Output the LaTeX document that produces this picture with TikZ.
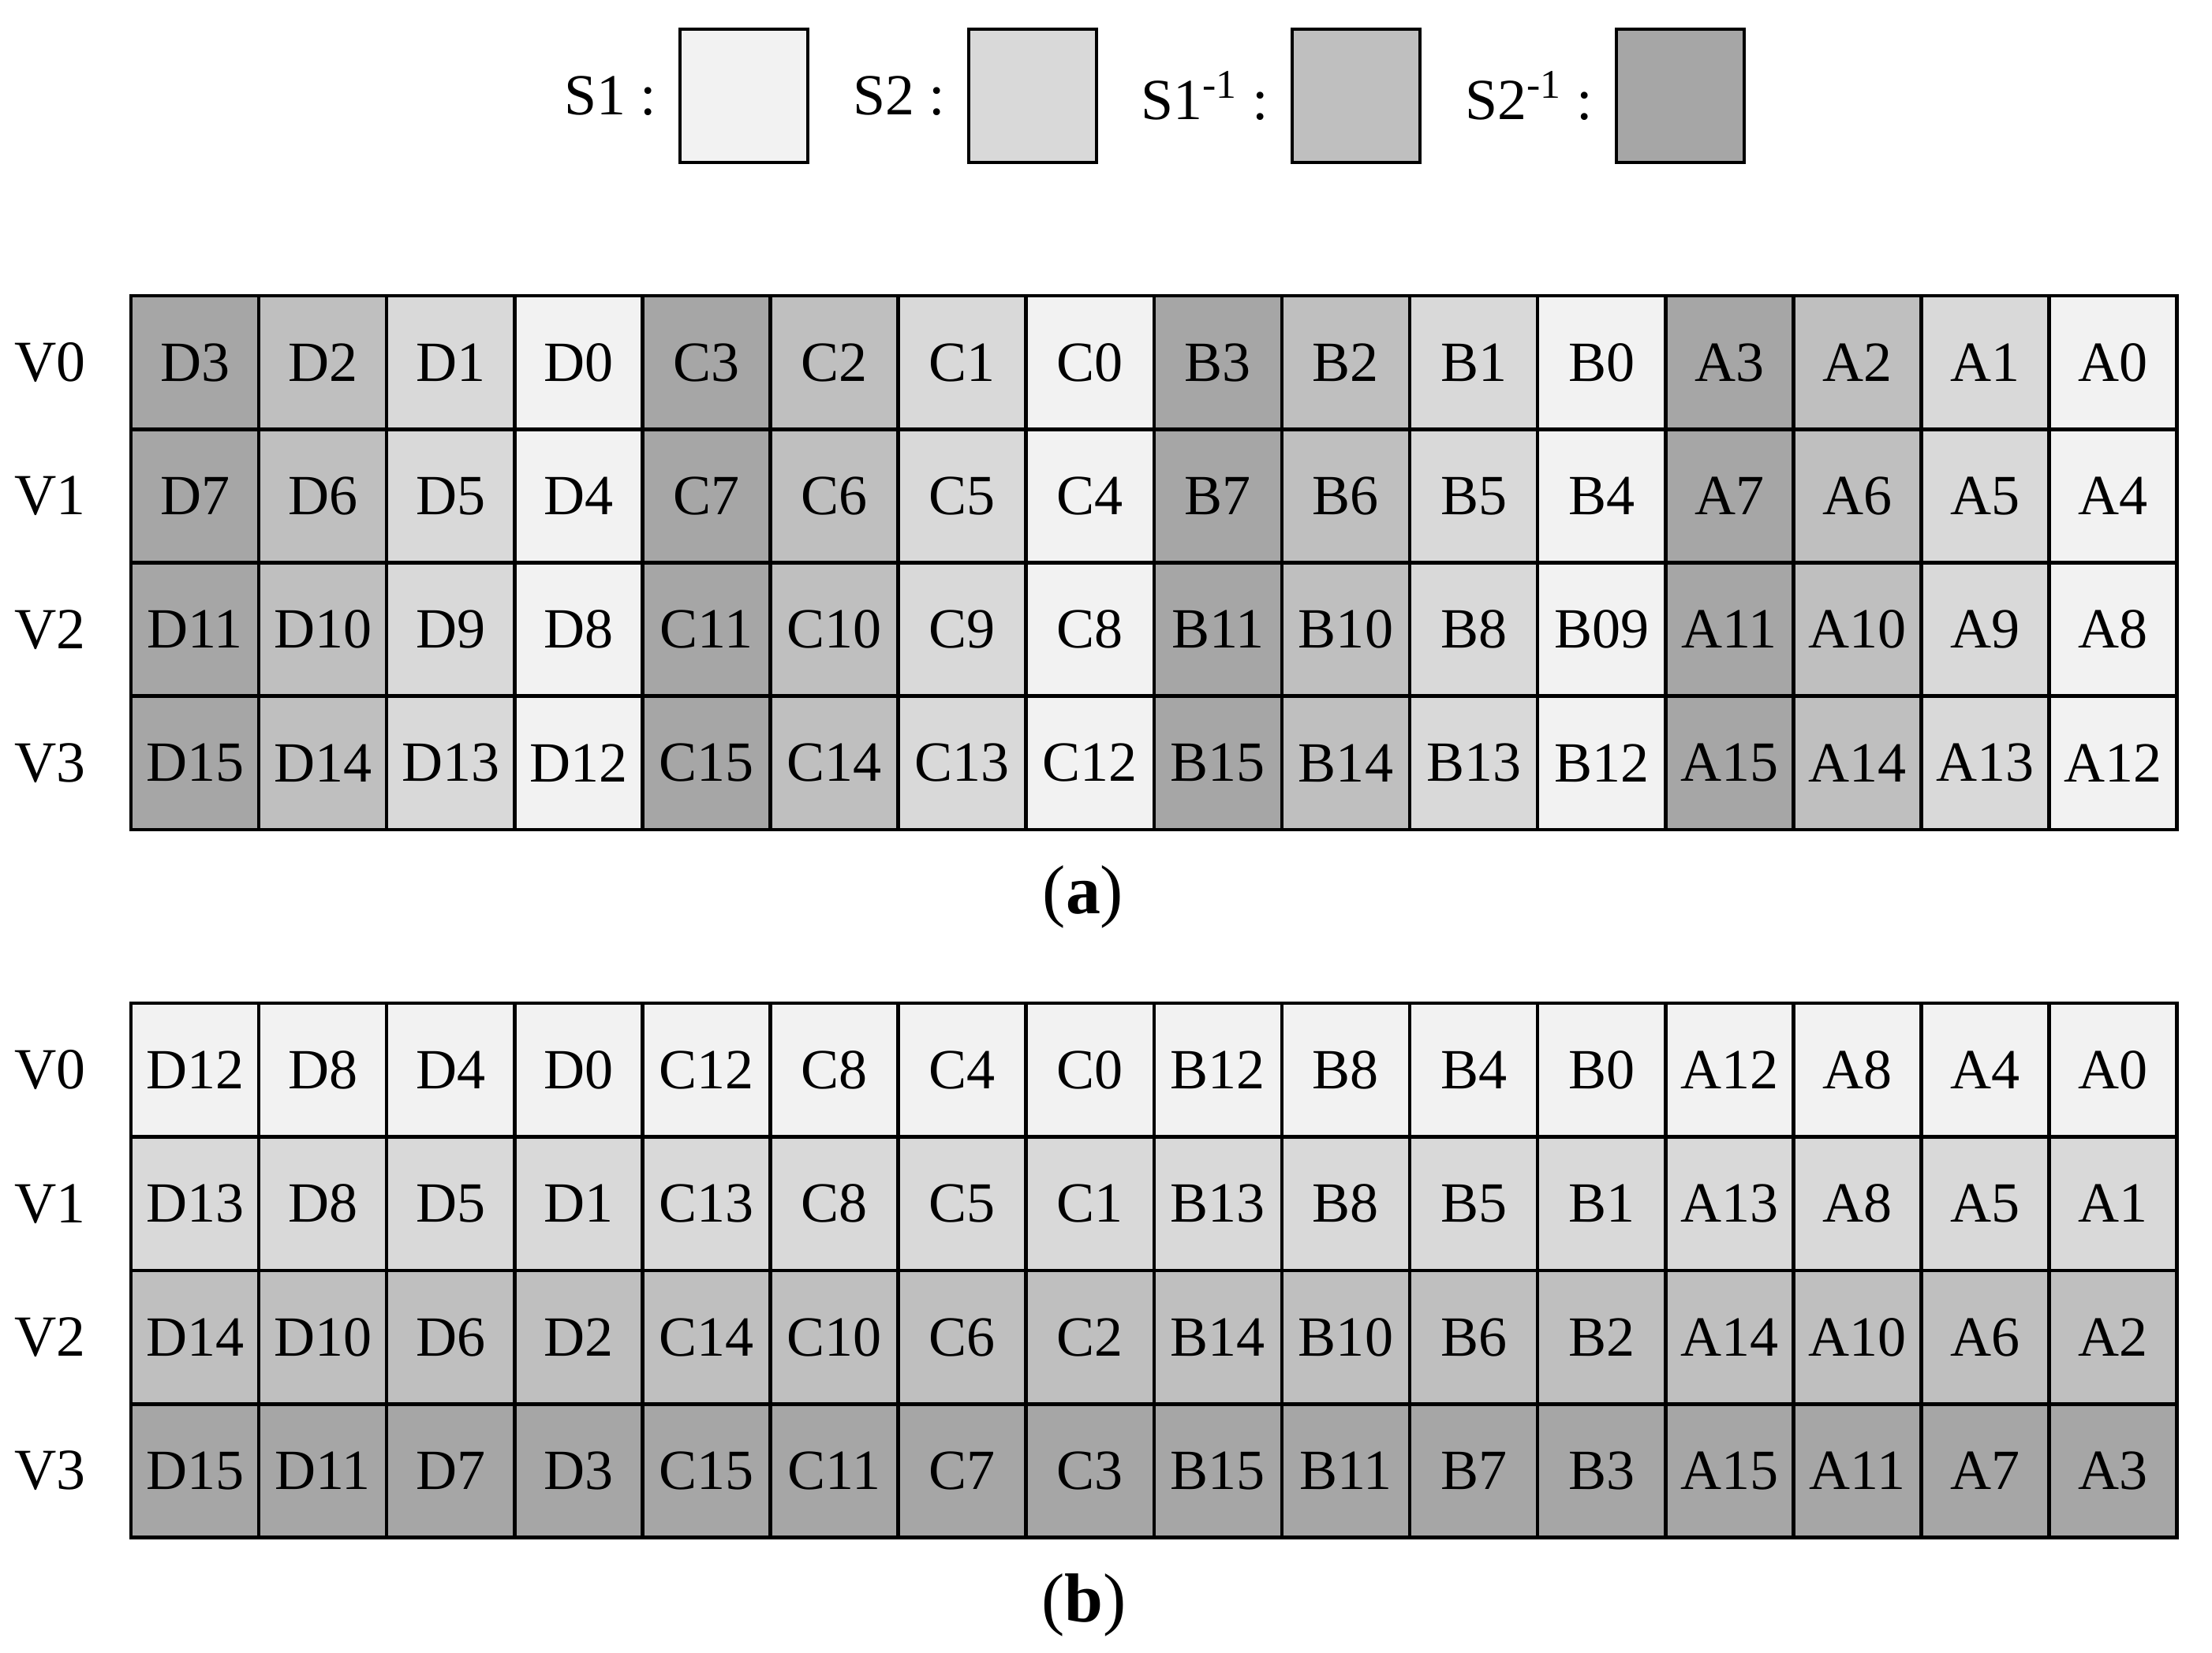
\documentclass[tikz,border=0pt]{standalone}
\usepackage{fontspec}
\setmainfont{Liberation Serif}
\usetikzlibrary{positioning}
\definecolor{sh3}{HTML}{F2F2F2}% S1
\definecolor{sh2}{HTML}{D9D9D9}% S2
\definecolor{sh1}{HTML}{BFBFBF}% S1^-1
\definecolor{sh0}{HTML}{A6A6A6}% S2^-1

\begin{document}
\begin{tikzpicture}[line width=1.3pt,
  cell/.style={draw,minimum width=1.621cm,minimum height=1.6925cm,inner sep=0pt,
    font=\fontsize{20.5}{24}\selectfont},
  lbl/.style={inner sep=0pt,font=\fontsize{21}{25}\selectfont},
  captxt/.style={inner sep=0pt,font=\fontsize{25}{30}\selectfont}]
\useasboundingbox (0,0) rectangle (28.04,-20.95);

% legend
\node [cell,fill=sh3] (k1) at (9.43,-1.215) {};
\node [cell,fill=sh2] (k2) at (13.09,-1.215) {};
\node [cell,fill=sh1] (k3) at (17.19,-1.215) {};
\node [cell,fill=sh0] (k4) at (21.30,-1.215) {};
\node [lbl,left=0.25cm of k1] (t1) {S1 :};
\node [lbl,left=0.25cm of k2] (t2) {S2 :};
\node [lbl,left=0.25cm of k3] (t3) {S1\textsuperscript{-1} :};
\node [lbl,left=0.25cm of k4] (t4) {S2\textsuperscript{-1} :};

% (a)
\foreach \r/\row in {0/{D3,D2,D1,D0,C3,C2,C1,C0,B3,B2,B1,B0,A3,A2,A1,A0},
                     1/{D7,D6,D5,D4,C7,C6,C5,C4,B7,B6,B5,B4,A7,A6,A5,A4},
                     2/{D11,D10,D9,D8,C11,C10,C9,C8,B11,B10,B8,B09,A11,A10,A9,A8},
                     3/{D15,D14,D13,D12,C15,C14,C13,C12,B15,B14,B13,B12,A15,A14,A13,A12}}{
  \foreach \t [count=\c from 0] in \row {
    \pgfmathtruncatemacro\m{mod(\c,4)}
    \node [cell,fill=sh\m] (a\r-\c) at ({1.66+(\c+0.5)*1.621},{-3.75-(\r+0.5)*1.6925}) {\t};
  }
  \node [lbl,left=0.53cm of a\r-0] (va\r) {V\r};
}
\node [captxt] (capa) at (13.73,-11.37) {(\textbf{a})};

% (b)
\foreach \r/\row in {0/{D12,D8,D4,D0,C12,C8,C4,C0,B12,B8,B4,B0,A12,A8,A4,A0},
                     1/{D13,D8,D5,D1,C13,C8,C5,C1,B13,B8,B5,B1,A13,A8,A5,A1},
                     2/{D14,D10,D6,D2,C14,C10,C6,C2,B14,B10,B6,B2,A14,A10,A6,A2},
                     3/{D15,D11,D7,D3,C15,C11,C7,C3,B15,B11,B7,B3,A15,A11,A7,A3}}{
  \pgfmathtruncatemacro\m{3-\r}
  \foreach \t [count=\c from 0] in \row {
    \node [cell,fill=sh\m] (b\r-\c) at ({1.66+(\c+0.5)*1.621},{-12.72-(\r+0.5)*1.6945}) {\t};
  }
  \node [lbl,left=0.53cm of b\r-0] (vb\r) {V\r};
}
\node [captxt] (capb) at (13.74,-20.35) {(\textbf{b})};
\end{tikzpicture}
\end{document}
